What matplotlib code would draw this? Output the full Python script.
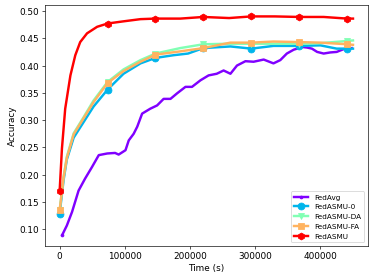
import numpy as np
import matplotlib
matplotlib.use("Agg")
import matplotlib.pyplot as plt

labels = ["FedAvg", "FedASMU-0", "FedASMU-DA", "FedASMU-FA", "FedASMU"]
markers = [".", "o", "v", "s", "h"]
marker_times = [0, 73500, 147000, 220500, 294000, 367500, 441000]

t_avg = [4000, 11000, 19000, 29000, 39000, 49500, 60000, 73000, 85000, 90500,
         101000, 106000, 113500, 119000, 126500, 139000, 149500, 159500, 170000,
         180000, 193000, 203000, 216000, 228500, 241000, 251500, 262000, 272000,
         285000, 297500, 313000, 328000, 338500, 348500, 359000, 372000, 379500,
         387000, 395000, 405000, 415000, 425000, 435500, 448000]
acc_avg = [0.090, 0.107, 0.132, 0.171, 0.193, 0.214, 0.236, 0.239, 0.240, 0.237,
           0.245, 0.263, 0.275, 0.288, 0.312, 0.321, 0.327, 0.339, 0.339,
           0.349, 0.361, 0.361, 0.373, 0.382, 0.385, 0.391, 0.385, 0.400,
           0.408, 0.407, 0.411, 0.404, 0.410, 0.422, 0.429, 0.434, 0.433,
           0.431, 0.425, 0.422, 0.424, 0.425, 0.430, 0.432]

t_0 = [0, 6000, 11000, 21500, 37000, 52000, 73500, 98000, 124000, 147000, 175000,
       197000, 220500, 262000, 294000, 328000, 367500, 400000, 425000, 441000, 450000]
acc_0 = [0.129, 0.190, 0.228, 0.268, 0.297, 0.325, 0.356, 0.385, 0.404, 0.414, 0.419,
         0.422, 0.432, 0.435, 0.431, 0.436, 0.436, 0.437, 0.431, 0.431, 0.431]

t_da = [0, 6000, 11000, 21500, 37000, 52000, 73500, 98000, 124000, 147000, 185000,
        220500, 262000, 294000, 328000, 367500, 400000, 441000, 450000]
acc_da = [0.135, 0.196, 0.233, 0.276, 0.306, 0.336, 0.370, 0.393, 0.410, 0.422, 0.432,
          0.439, 0.440, 0.440, 0.440, 0.440, 0.441, 0.445, 0.446]

t_fa = [0, 6000, 11000, 21500, 37000, 52000, 73500, 98000, 124000, 147000, 185000,
        220500, 262000, 294000, 328000, 367500, 400000, 441000, 450000]
acc_fa = [0.135, 0.195, 0.231, 0.274, 0.304, 0.333, 0.368, 0.390, 0.407, 0.420, 0.426,
          0.432, 0.442, 0.442, 0.444, 0.443, 0.442, 0.439, 0.438]

t_asmu = [0, 3500, 8500, 16500, 24000, 31500, 42000, 57500, 73500, 98000, 124000,
          147000, 185000, 220500, 260000, 294000, 330000, 367500, 405000, 441000, 450000]
acc_asmu = [0.171, 0.248, 0.321, 0.382, 0.419, 0.443, 0.459, 0.471, 0.477, 0.481, 0.485,
            0.486, 0.486, 0.489, 0.487, 0.490, 0.490, 0.489, 0.489, 0.486, 0.486]

series = [(t_avg, acc_avg), (t_0, acc_0), (t_da, acc_da), (t_fa, acc_fa), (t_asmu, acc_asmu)]
colors = plt.cm.rainbow(np.linspace(0, 1, len(series)))

fig = plt.figure(figsize=(6.4, 4.8), dpi=58.44)
ax = fig.add_axes([0.1203, 0.122, 0.983 - 0.1203, 0.9786 - 0.122])
for (t, a), lab, m, c in zip(series, labels, markers, colors):
    t = np.asarray(t)
    if lab == "FedAvg":
        me = [0]
        ms = 7
    else:
        me = [i for i, v in enumerate(t) if v in marker_times]
        ms = 8.5
    ax.plot(t, a, color=c, lw=3, marker=m, markevery=me, markersize=ms, label=lab)

ax.set_xlabel("Time (s)", fontsize=11)
ax.set_ylabel("Accuracy", fontsize=11)
ax.tick_params(labelsize=11)
ax.legend(loc="lower right", fontsize=9)
fig.savefig("out.png", dpi=58.44)
